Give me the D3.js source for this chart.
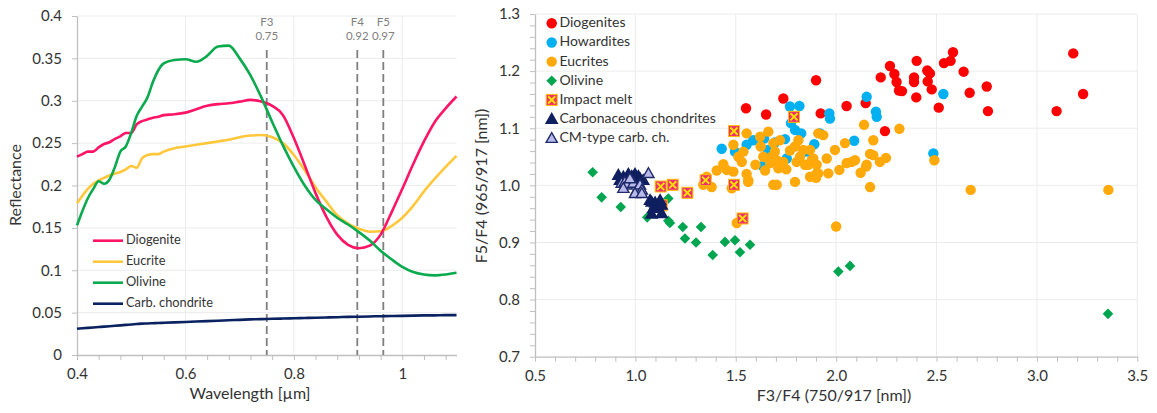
<!DOCTYPE html>
<html><head><meta charset="utf-8">
<script src="https://cdn.jsdelivr.net/npm/d3@7"></script>
<style>
body{margin:0;background:#fff;}
text{font-family:Lato,'Open Sans',sans-serif;fill:#333;}
</style>
</head><body>
<svg id="c" width="1157" height="413"></svg>
<script>
// ---------- LEFT PANEL DATA (spectra) ----------
const wavelengths = [0.40,0.41,0.42,0.43,0.44,0.45,0.46,0.47,0.48,0.49,0.50,0.51,0.52,0.53,0.54,0.55,0.56,0.58,0.60,0.62,0.64,0.66,0.68,0.70,0.72,0.74,0.76,0.78,0.80,0.82,0.84,0.86,0.88,0.90,0.92,0.94,0.96,0.98,1.00,1.02,1.04,1.06,1.08,1.10];
const diogenite = [0.234,0.237,0.240,0.240,0.245,0.249,0.251,0.255,0.258,0.262,0.262,0.272,0.276,0.278,0.280,0.281,0.283,0.284,0.286,0.290,0.294,0.296,0.297,0.299,0.301,0.299,0.294,0.283,0.256,0.224,0.191,0.163,0.142,0.130,0.126,0.129,0.142,0.168,0.196,0.225,0.252,0.275,0.291,0.305];
const eucrite   = [0.179,0.188,0.196,0.202,0.206,0.209,0.212,0.214,0.216,0.219,0.223,0.221,0.232,0.236,0.237,0.237,0.240,0.244,0.246,0.248,0.250,0.252,0.254,0.257,0.259,0.2595,0.257,0.250,0.236,0.218,0.198,0.181,0.165,0.155,0.149,0.1455,0.146,0.152,0.162,0.176,0.193,0.208,0.222,0.235];
const olivine   = [0.153,0.170,0.185,0.196,0.205,0.202,0.207,0.222,0.240,0.246,0.262,0.282,0.293,0.304,0.322,0.336,0.344,0.348,0.349,0.346,0.353,0.364,0.365,0.350,0.330,0.304,0.275,0.247,0.222,0.200,0.183,0.172,0.162,0.154,0.145,0.135,0.123,0.113,0.104,0.098,0.095,0.094,0.095,0.097];
const carbChondrite = [0.031,0.0315,0.032,0.0325,0.033,0.0335,0.034,0.0345,0.035,0.0355,0.036,0.0365,0.037,0.0372,0.0375,0.0378,0.038,0.0385,0.039,0.0395,0.040,0.0405,0.041,0.0415,0.042,0.0423,0.0427,0.043,0.0433,0.0437,0.044,0.0443,0.0446,0.045,0.0452,0.0455,0.0458,0.046,0.0462,0.0465,0.0467,0.0468,0.047,0.047];
const spectraNames = ["Diogenite","Eucrite","Olivine","Carb. chondrite"];
const spectraColors = ["#FF1466","#FFC83C","#0BAA4E","#0A2260"];
const featureWl = [0.75,0.917,0.965];
const featureNames = ["F3","F4","F5"];
const featureLabels = ["0.75","0.92","0.97"];
const xTicksLeft = [0.4,0.6,0.8,1.0];
const yTicksLeft = [0,0.05,0.1,0.15,0.2,0.25,0.3,0.35,0.4];

// ---------- RIGHT PANEL DATA (band ratios: [F3/F4, F5/F4]) ----------
const diogenites = [[1.551,1.135],[1.651,1.124],[1.737,1.152],[1.900,1.184],[1.923,1.126],[2.052,1.139],[2.147,1.144],[2.222,1.189],[2.268,1.209],[2.290,1.195],[2.301,1.181],[2.313,1.166],[2.328,1.165],[2.243,1.095],[2.401,1.218],[2.388,1.189],[2.388,1.181],[2.399,1.154],[2.454,1.201],[2.467,1.196],[2.456,1.182],[2.476,1.168],[2.511,1.136],[2.537,1.214],[2.570,1.218],[2.582,1.233],[2.635,1.199],[2.665,1.162],[2.750,1.173],[2.756,1.130],[3.098,1.130],[3.181,1.231],[3.230,1.160]];
const howardites = [[1.430,1.064],[1.496,1.059],[1.554,1.071],[1.587,1.079],[1.641,1.082],[1.660,1.062],[1.634,1.034],[1.695,1.075],[1.745,1.081],[1.754,1.047],[1.770,1.138],[1.775,1.109],[1.795,1.097],[1.817,1.139],[1.826,1.091],[1.853,1.059],[1.891,1.072],[1.920,1.091],[1.966,1.126],[1.969,1.117],[2.090,1.078],[2.152,1.155],[2.198,1.129],[2.202,1.120],[2.534,1.160],[2.484,1.056]];
const eucrites = [[1.338,1.001],[1.380,0.997],[1.355,1.015],[1.405,1.026],[1.438,1.037],[1.455,1.027],[1.488,1.024],[1.480,0.995],[1.505,0.934],[1.488,1.071],[1.513,1.050],[1.530,1.041],[1.538,1.059],[1.554,1.091],[1.554,1.020],[1.562,1.006],[1.562,1.009],[1.598,1.036],[1.621,1.085],[1.624,1.068],[1.637,1.050],[1.646,1.026],[1.662,1.094],[1.671,1.039],[1.679,1.050],[1.687,1.001],[1.704,1.001],[1.687,1.074],[1.695,1.059],[1.704,1.044],[1.712,1.030],[1.720,1.079],[1.729,1.034],[1.737,1.041],[1.752,1.028],[1.770,1.061],[1.795,1.006],[1.795,1.068],[1.803,1.041],[1.812,1.079],[1.820,1.050],[1.836,1.062],[1.845,1.036],[1.861,1.036],[1.870,1.062],[1.870,1.015],[1.878,1.044],[1.886,1.047],[1.903,1.036],[1.903,1.021],[1.900,1.013],[1.911,1.021],[1.911,1.091],[1.936,1.088],[1.953,1.047],[1.961,1.021],[1.994,1.062],[2.016,1.027],[2.044,1.074],[2.052,1.039],[2.077,1.041],[2.094,1.044],[2.122,1.022],[2.139,1.106],[2.149,1.033],[2.152,1.036],[2.169,1.055],[2.185,1.079],[2.185,1.053],[2.218,1.041],[2.248,1.048],[2.169,0.997],[2.315,1.099],[2.489,1.044],[2.670,0.992],[3.356,0.992],[2.000,0.928]];
const olivines = [[0.787,1.023],[0.832,0.979],[0.927,0.962],[1.059,0.944],[1.164,0.977],[1.164,0.938],[1.172,0.934],[1.236,0.927],[1.247,0.907],[1.302,0.900],[1.327,0.927],[1.385,0.878],[1.446,0.901],[1.496,0.904],[1.521,0.883],[1.571,0.896],[2.011,0.849],[2.069,0.859],[3.354,0.775]];
const impactMelt = [[1.126,0.998],[1.186,1.001],[1.259,0.987],[1.350,1.009],[1.491,1.001],[1.491,1.095],[1.790,1.120],[1.534,0.942],[1.131,0.965]];
const carbonaceous = [[0.915,1.018],[0.940,1.015],[0.965,1.020],[0.982,1.016],[0.998,1.020],[1.015,1.016],[1.023,1.012],[1.039,1.009],[0.923,1.009],[1.073,0.974],[1.081,0.971],[1.098,0.970],[1.089,0.960],[1.081,0.950],[1.114,0.960],[1.131,0.966],[1.131,0.951],[1.123,0.974]];
const cmType = [[0.932,1.004],[0.948,1.006],[0.957,1.001],[0.990,1.004],[1.007,0.992],[1.023,1.001],[1.032,0.992],[1.065,1.021],[0.973,1.012],[0.940,0.995],[0.998,0.986],[1.032,0.986]];
const seriesNames = ["Diogenites","Howardites","Eucrites","Olivine","Impact melt","Carbonaceous chondrites","CM-type carb. ch."];
const xTicksRight = [0.5,1.0,1.5,2.0,2.5,3.0,3.5];
const yTicksRight = [0.7,0.8,0.9,1.0,1.1,1.2,1.3];

const svg = d3.select("#c");
const gridCol = "#ececec", axisCol = "#bfbfbf";

// ================= LEFT PANEL =================
const xL = d3.scaleLinear().domain([0.4,1.1]).range([77,456.5]);
const yL = d3.scaleLinear().domain([0,0.4]).range([355,16]);
const gL = svg.append("g");

gL.append("g").selectAll("line").data(yTicksLeft.filter(v=>v>0)).join("line")
  .attr("x1",xL(0.4)).attr("x2",xL(1.1)).attr("y1",d=>yL(d)).attr("y2",d=>yL(d))
  .attr("stroke",gridCol).attr("stroke-width",1);
gL.append("g").selectAll("line").data(xTicksLeft.filter(v=>v>0.4)).join("line")
  .attr("y1",yL(0)).attr("y2",yL(0.4)).attr("x1",d=>xL(d)).attr("x2",d=>xL(d))
  .attr("stroke",gridCol).attr("stroke-width",1);

const axXL = gL.append("g").attr("transform",`translate(0,${yL(0)})`)
  .call(d3.axisBottom(xL).tickValues(d3.range(0.4,1.1001,0.04)).tickFormat("").tickSize(5).tickSizeOuter(0));
const axXL2 = gL.append("g").attr("transform",`translate(0,${yL(0)})`)
  .call(d3.axisBottom(xL).tickValues(xTicksLeft).tickFormat(d3.format("~g")).tickSize(0).tickPadding(13));
const axYL = gL.append("g").attr("transform",`translate(${xL(0.4)},0)`)
  .call(d3.axisLeft(yL).tickValues(yTicksLeft).tickFormat(d3.format("~g")).tickSize(5).tickPadding(10).tickSizeOuter(0));
[axXL,axXL2,axYL].forEach(a=>{
  a.selectAll("path").attr("stroke",axisCol).attr("stroke-width",1.3);
  a.selectAll("line").attr("stroke",axisCol);
  a.selectAll("text").attr("font-size",15).attr("fill","#333").style("font-family","Lato");
});
axXL2.select("path").remove();

// feature dashed lines
featureWl.forEach((w,i)=>{
  gL.append("line").attr("x1",xL(w)).attr("x2",xL(w)).attr("y1",50).attr("y2",yL(0))
    .attr("stroke","#7f7f7f").attr("stroke-width",1.8).attr("stroke-dasharray","8,4");
  gL.append("text").attr("x",xL(w)).attr("y",23.5).attr("text-anchor","middle").attr("dominant-baseline","middle")
    .attr("font-size",11.5).style("fill","#808080").text(featureNames[i]);
  gL.append("text").attr("x",xL(w)).attr("y",37.5).attr("text-anchor","middle").attr("dominant-baseline","middle")
    .attr("font-size",11.5).style("fill","#808080").text(featureLabels[i]);
});

// curves
const spectra = [diogenite,eucrite,olivine,carbChondrite];
const lineGen = d3.line().x((d,i)=>xL(wavelengths[i])).y(d=>yL(d)).curve(d3.curveMonotoneX);
[3,1,0,2].forEach(k=>{
  gL.append("path").attr("d",lineGen(spectra[k])).attr("fill","none")
    .attr("stroke",spectraColors[k]).attr("stroke-width",2.6).attr("stroke-linejoin","round");
});

// legend left
spectraNames.forEach((n,i)=>{
  const y = 240.7 + i*21;
  gL.append("line").attr("x1",93).attr("x2",123).attr("y1",y).attr("y2",y)
    .attr("stroke",spectraColors[i]).attr("stroke-width",2.6);
  gL.append("text").attr("x",126).attr("y",y).attr("dominant-baseline","middle")
    .attr("font-size",12.8).text(n);
});

gL.append("text").attr("transform","translate(17,185) rotate(-90)").attr("text-anchor","middle")
  .attr("dominant-baseline","middle").attr("font-size",16).text("Reflectance");
gL.append("text").attr("x",250).attr("y",395).attr("text-anchor","middle")
  .attr("dominant-baseline","middle").attr("font-size",16).text("Wavelength [µm]");

// ================= RIGHT PANEL =================
const xR = d3.scaleLinear().domain([0.5,3.5]).range([535,1137.3]);
const yR = d3.scaleLinear().domain([0.7,1.3]).range([356.7,14]);
const gR = svg.append("g");

gR.append("g").selectAll("line").data(yTicksRight.filter(v=>v>0.7)).join("line")
  .attr("x1",xR(0.5)).attr("x2",xR(3.5)).attr("y1",d=>yR(d)).attr("y2",d=>yR(d))
  .attr("stroke",gridCol);
gR.append("g").selectAll("line").data(xTicksRight.filter(v=>v>0.5)).join("line")
  .attr("y1",yR(0.7)).attr("y2",yR(1.3)).attr("x1",d=>xR(d)).attr("x2",d=>xR(d))
  .attr("stroke",gridCol);

const axXR = gR.append("g").attr("transform",`translate(0,${yR(0.7)})`)
  .call(d3.axisBottom(xR).tickValues(d3.range(0.5,3.5001,0.1)).tickFormat("").tickSize(5).tickSizeOuter(0));
const axXR2 = gR.append("g").attr("transform",`translate(0,${yR(0.7)})`)
  .call(d3.axisBottom(xR).tickValues(xTicksRight).tickFormat(d3.format(".1f")).tickSize(0).tickPadding(14));
const axYR = gR.append("g").attr("transform",`translate(${xR(0.5)},0)`)
  .call(d3.axisLeft(yR).tickValues(d3.range(0.7,1.3001,0.02)).tickFormat("").tickSize(5).tickSizeOuter(0));
const axYR2 = gR.append("g").attr("transform",`translate(${xR(0.5)},0)`)
  .call(d3.axisLeft(yR).tickValues(yTicksRight).tickFormat(d3.format(".1f")).tickSize(0).tickPadding(15));
[axXR,axXR2,axYR,axYR2].forEach(a=>{
  a.selectAll("path").attr("stroke",axisCol).attr("stroke-width",1.3);
  a.selectAll("line").attr("stroke",axisCol);
  a.selectAll("text").attr("font-size",15).attr("fill","#333").style("font-family","Lato");
});
axXR2.select("path").remove(); axYR2.select("path").remove();

const cols = {dio:"#FF0000",how:"#00B0F0",euc:"#FFA90A",oli:"#00A550",imp:"#EE2D72",impX:"#FFE000",cc:"#0F1F5F",cm:"#B9B9EA"};
function circle(g,x,y,c){ g.append("circle").attr("cx",x).attr("cy",y).attr("r",5.2).attr("fill",c); }
function diamond(g,x,y){ const s=5.3; g.append("path").attr("d",`M${x},${y-s}L${x+s},${y}L${x},${y+s}L${x-s},${y}Z`).attr("fill",cols.oli); }
function square(g,x,y){ const s=5.5;
  g.append("rect").attr("x",x-s).attr("y",y-s).attr("width",2*s).attr("height",2*s).attr("fill",cols.imp).attr("stroke","#FFC000").attr("stroke-width",1);
  g.append("path").attr("d",`M${x-3.6},${y-3.6}L${x+3.6},${y+3.6}M${x+3.6},${y-3.6}L${x-3.6},${y+3.6}`).attr("stroke",cols.impX).attr("stroke-width",2);
}
function tri(g,x,y,fill,stroke){ const s=5.6;
  g.append("path").attr("d",`M${x},${y-s}L${x+s},${y+s*0.75}L${x-s},${y+s*0.75}Z`).attr("fill",fill).attr("stroke",stroke).attr("stroke-width",1.4);
}
const gm = gR.append("g");
diogenites.forEach(d=>circle(gm,xR(d[0]),yR(d[1]),cols.dio));
howardites.forEach(d=>circle(gm,xR(d[0]),yR(d[1]),cols.how));
eucrites.forEach(d=>circle(gm,xR(d[0]),yR(d[1]),cols.euc));
olivines.forEach(d=>diamond(gm,xR(d[0]),yR(d[1])));
impactMelt.forEach(d=>square(gm,xR(d[0]),yR(d[1])));
carbonaceous.forEach(d=>tri(gm,xR(d[0]),yR(d[1]),cols.cc,cols.cc));
cmType.forEach(d=>tri(gm,xR(d[0]),yR(d[1]),cols.cm,"#1F2A6B"));

const lg = gR.append("g");
const lx = 551.7;
seriesNames.forEach((n,i)=>{
  const y = 23.3 + i*19.15;
  if(i===0) circle(lg,lx,y,cols.dio);
  if(i===1) circle(lg,lx,y,cols.how);
  if(i===2) circle(lg,lx,y,cols.euc);
  if(i===3) diamond(lg,lx,y);
  if(i===4) square(lg,lx,y);
  if(i===5) tri(lg,lx,y,cols.cc,cols.cc);
  if(i===6) tri(lg,lx,y,cols.cm,"#1F2A6B");
  lg.append("text").attr("x",559.5).attr("y",y+0.5).attr("dominant-baseline","middle").attr("font-size",14).text(n);
});

gR.append("text").attr("transform","translate(483,186) rotate(-90)").attr("text-anchor","middle")
  .attr("dominant-baseline","middle").attr("font-size",16).text("F5/F4 (965/917 [nm])");
gR.append("text").attr("x",834).attr("y",397).attr("text-anchor","middle")
  .attr("dominant-baseline","middle").attr("font-size",16).text("F3/F4 (750/917 [nm])");
</script>
</body></html>
